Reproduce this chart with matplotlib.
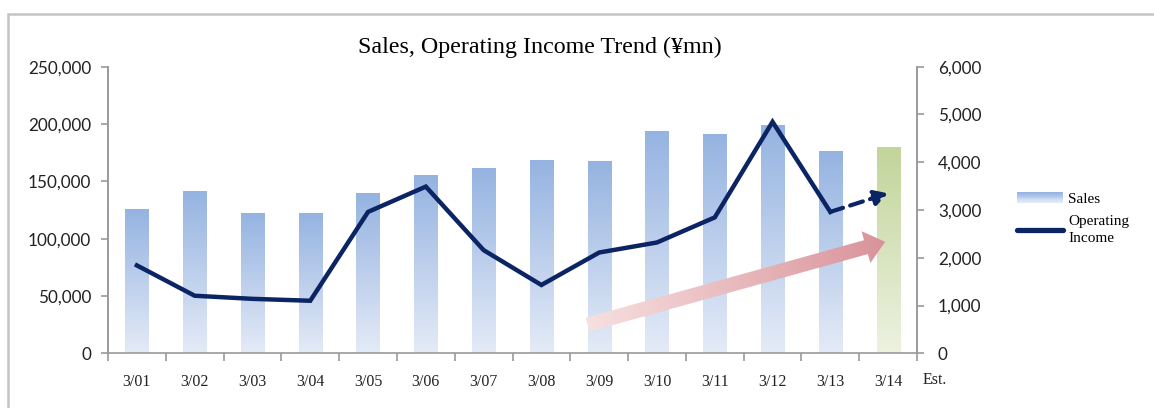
import numpy as np
import matplotlib
matplotlib.use("Agg")
import matplotlib.pyplot as plt
from matplotlib.colors import LinearSegmentedColormap
from matplotlib.patches import Polygon, Rectangle, Patch
from matplotlib.lines import Line2D
from matplotlib.legend_handler import HandlerBase

# data
periods = ["3/01", "3/02", "3/03", "3/04", "3/05", "3/06", "3/07",
           "3/08", "3/09", "3/10", "3/11", "3/12", "3/13", "3/14"]
sales = [125600, 140700, 122100, 122100, 139500, 154600, 160700,
         168300, 166800, 193300, 190400, 198200, 175800, 179600]
op_income = [1840, 1205, 1140, 1100, 2960, 3490, 2160,
             1430, 2110, 2320, 2845, 4845, 2960]
op_income_est = 3350

navy = "#0b2463"
spine_col = "#9a9a9a"
W, H = 1154, 408

fig = plt.figure(figsize=(W / 100, H / 100), dpi=100)
ax = fig.add_axes([108 / W, 1 - 353.3 / H, (917 - 108) / W, (353.3 - 66.7) / H])
ax2 = ax.twinx()

x = np.arange(len(periods))
bw = 0.4
blue_cm = LinearSegmentedColormap.from_list("b", ["#e4ebf7", "#95b3e1"])
green_cm = LinearSegmentedColormap.from_list("g", ["#edf2e1", "#c2d59a"])
ramp = np.linspace(0, 1, 256).reshape(-1, 1)
bars = ax.bar(x, sales, width=bw, color="none", zorder=2)
for i, b in enumerate(bars):
    cm = green_cm if i == len(bars) - 1 else blue_cm
    ax.imshow(ramp, cmap=cm, origin="lower", aspect="auto", zorder=2,
              extent=[b.get_x(), b.get_x() + b.get_width(), 0, b.get_height()])
ax.set_xlim(-0.5, len(periods) - 0.5)
ax.set_ylim(0, 250000)
ax.set_yticks(np.arange(0, 250001, 50000))
ax.set_yticklabels([f"{v:,}" for v in range(0, 250001, 50000)])

ax2.plot(x[:len(op_income)], op_income, color=navy, lw=3.2,
         solid_joinstyle="miter", zorder=5)
ax2.annotate("", xy=(x[-1], op_income_est), xytext=(x[-2], op_income[-1]),
             arrowprops=dict(arrowstyle="-|>,head_length=0.8,head_width=0.45",
                             color=navy, lw=3, linestyle=(0, (3.2, 1.8)),
                             shrinkA=0, shrinkB=0))
ax2.set_ylim(0, 6000)
ax2.set_yticks(np.arange(0, 6001, 1000))
ax2.set_yticklabels([f"{v:,}" for v in range(0, 6001, 1000)])

for a in (ax, ax2):
    a.spines["top"].set_visible(False)
    for s in ("left", "right", "bottom"):
        a.spines[s].set_color(spine_col)
        a.spines[s].set_linewidth(1.2)
ax2.spines["bottom"].set_visible(False)

ax.set_xticks(np.arange(-0.5, len(periods), 1.0))
ax.set_xticklabels([])
ax.set_xticks(x, minor=True)
ax.set_xticklabels(periods, minor=True, fontfamily="Liberation Serif",
                   fontsize=11.5, color="#222222")
ax.tick_params(axis="x", which="major", length=6, width=1.2, color=spine_col,
               direction="out")
ax.tick_params(axis="x", which="minor", length=0, pad=15)
ax.tick_params(axis="y", length=5, width=1.2, color=spine_col, pad=7,
               labelsize=12.3, labelcolor="#222222")
ax2.tick_params(axis="y", length=5, width=1.2, color=spine_col, pad=10,
                labelsize=12.3, labelcolor="#222222")
for lab in ax.get_yticklabels() + ax2.get_yticklabels():
    lab.set_fontfamily("Lato")

ax.text(1.022, -0.093, "Est.", transform=ax.transAxes, ha="center",
        va="center", fontfamily="Liberation Serif", fontsize=11.5, color="#222222")

fig.text(540 / W, 1 - 47.5 / H, "Sales, Operating Income Trend (¥mn)",
         ha="center", va="center", fontfamily="Liberation Serif", fontsize=17.3)

# outer frame
fig.patches.append(Rectangle((8 / W, -0.1), 1.2, 1 - 14 / H + 0.1,
                             transform=fig.transFigure, fill=False,
                             edgecolor="#c4c4c4", lw=1.8))


# legend with a gradient swatch made of thin strips
class GradHandler(HandlerBase):
    def create_artists(self, legend, orig, xd, yd, width, height, fontsize, trans):
        strips = []
        nstrip = 12
        for k in range(nstrip):
            c = blue_cm(1 - k / (nstrip - 1))
            r = Rectangle((-xd, -yd + height * (1 - (k + 1) / nstrip)),
                          width, height / nstrip + 0.3, facecolor=c,
                          edgecolor="none", transform=trans)
            strips.append(r)
        return strips


handles = [Patch(facecolor="#b3c6ea", edgecolor="none"),
           Line2D([], [], color=navy, lw=3.8, solid_capstyle="round")]
leg = fig.legend(handles, ["Sales", "Operating\nIncome"], loc="center left",
                 bbox_to_anchor=(1003 / W, 1 - 219 / H), frameon=False,
                 prop=dict(family="Liberation Serif", size=11),
                 handlelength=3.0, handletextpad=0.35, labelspacing=0.6,
                 handler_map={Patch: GradHandler()})
leg.get_texts()[1].set_linespacing(1.4)

# big trend arrow, anchored in the income axis
ov = fig.add_axes([0, 0, 1, 1], zorder=10)
ov.set_xlim(0, W)
ov.set_ylim(0, H)
ov.axis("off")
fig.canvas.draw()
T = ax2.transData.transform((7.8, 600))
P = ax2.transData.transform((12.95, 2335))
u = (P - T) / np.linalg.norm(P - T)
n = np.array([-u[1], u[0]])
sw, hw, hl = 7.2, 16.5, 20
B = P - hl * u
pts = np.array([T + sw * n, B + sw * n, B + hw * n, P,
                B - hw * n, B - sw * n, T - sw * n])
poly = Polygon(pts, closed=True, facecolor="none", edgecolor="none")
ov.add_patch(poly)
x0, y0 = pts.min(axis=0)
x1, y1 = pts.max(axis=0)
gx, gy = np.meshgrid(np.linspace(x0, x1, 300), np.linspace(y0, y1, 120))
L = np.linalg.norm(P - T)
g = ((gx - T[0]) * u[0] + (gy - T[1]) * u[1]) / L
red_cm = LinearSegmentedColormap.from_list("r", ["#f7e0e0", "#d9939a"])
im = ov.imshow(g, cmap=red_cm, origin="lower", extent=[x0, x1, y0, y1],
               aspect="auto", vmin=0, vmax=1)
im.set_clip_path(poly)
ov.set_xlim(0, W)
ov.set_ylim(0, H)

fig.savefig("out.png", dpi=100)
